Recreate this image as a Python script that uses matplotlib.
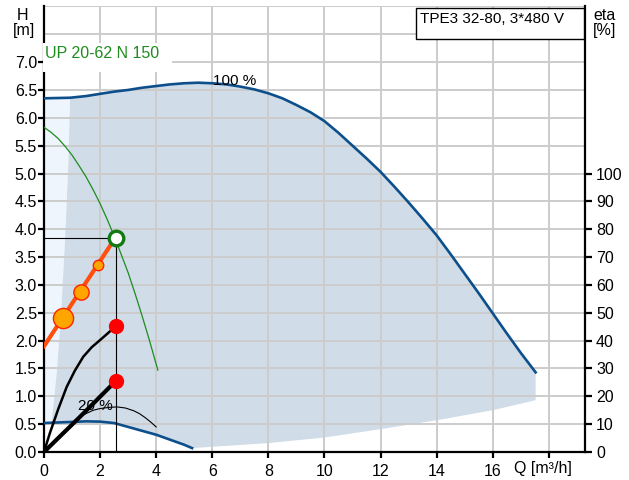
import matplotlib
matplotlib.use("Agg")
import matplotlib.pyplot as plt
from matplotlib.patches import Rectangle
from matplotlib.ticker import FixedLocator, FuncFormatter

plt.rcParams['font.family'] = ['Liberation Sans', 'DejaVu Sans']

# ---- data ----
q_max = [0.0, 0.93, 1.5, 2.0, 2.5, 3.0, 3.5, 4.0, 4.5, 5.0, 5.5, 6.0, 6.5, 7.0, 7.5, 8.0, 8.5, 9.0, 9.5,
         10.0, 10.5, 11.0, 11.5, 12.0, 12.5, 13.0, 13.5, 14.0, 14.5, 15.0, 15.5, 16.0, 16.5, 17.0, 17.53]
h_max = [6.35, 6.36, 6.39, 6.43, 6.47, 6.50, 6.54, 6.57, 6.60, 6.62, 6.63, 6.62, 6.60, 6.56, 6.51, 6.44, 6.35, 6.23, 6.10,
         5.94, 5.73, 5.50, 5.27, 5.03, 4.76, 4.48, 4.19, 3.89, 3.55, 3.20, 2.85, 2.49, 2.13, 1.78, 1.43]

q_min = [0.0, 0.5, 1.0, 1.5, 2.0, 2.5, 3.0, 3.5, 4.0, 4.5, 5.0, 5.28]
h_min = [0.52, 0.53, 0.54, 0.55, 0.545, 0.52, 0.45, 0.38, 0.31, 0.22, 0.13, 0.07]

q_low = [5.28, 8.0, 10.0, 12.0, 14.0, 16.0, 17.53]
h_low = [0.07, 0.16, 0.26, 0.41, 0.57, 0.75, 0.93]

q_lbound = [0.93, 0.87, 0.75, 0.60, 0.45, 0.27]
h_lbound = [6.36, 5.20, 3.80, 2.40, 1.40, 0.52]

q_up = [0.0, 0.25, 0.5, 0.75, 1.0, 1.25, 1.5, 1.75, 2.0, 2.25, 2.5, 2.75, 3.0, 3.25, 3.5, 3.75, 4.06]
h_up = [5.83, 5.74, 5.63, 5.49, 5.33, 5.14, 4.94, 4.71, 4.46, 4.18, 3.88, 3.55, 3.22, 2.84, 2.44, 2.02, 1.47]

q_sys = [0.0, 2.55]
h_sys = [1.90, 3.85]
q_sys_pts = [0.66, 1.32, 1.93]
h_sys_pts = [2.40, 2.88, 3.36]
sys_pt_sizes = [14.5, 11.0, 7.5]

q_p1 = [0.0, 0.21, 0.5, 0.81, 1.1, 1.4, 1.7, 2.0, 2.25, 2.47, 2.55]
h_p1 = [0.0, 0.34, 0.76, 1.17, 1.46, 1.71, 1.88, 2.01, 2.12, 2.22, 2.27]
q_p2 = [0.0, 1.28, 2.55]
h_p2 = [0.0, 0.63, 1.27]

q_eta20 = [1.28, 1.5, 1.76, 2.0, 2.3, 2.6, 2.9, 3.2, 3.4, 3.6, 3.8, 4.0]
h_eta20 = [0.63, 0.69, 0.75, 0.78, 0.80, 0.81, 0.79, 0.74, 0.69, 0.62, 0.54, 0.45]

q_op, h_op = 2.55, 3.85

x_ticks = [0, 2, 4, 6, 8, 10, 12, 14, 16, 18]
x_ticklabels = ['0', '2', '4', '6', '8', '10', '12', '14', '16', '']
h_ticks = [i * 0.5 for i in range(15)]
h_grid = [i * 0.5 for i in range(1, 17)]
eta_ticks = list(range(0, 101, 10))
ETA_PER_M = 20.0  # right axis scale: eta[%] = 20 * H[m]

# ---- figure ----
W, Hpx = 629, 480
fig = plt.figure(figsize=(W / 100, Hpx / 100), dpi=100)
ax = fig.add_axes([44 / W, 28 / Hpx, 541 / W, 445.6 / Hpx])
ax.set_xlim(0, 19.29)
ax.set_ylim(0, 8.0)

blue = '#0d4f8b'
grid_c = '#cccccc'

for xv in x_ticks:
    ax.axvline(xv, color=grid_c, lw=1.4, zorder=1.5)
for yv in h_grid:
    ax.axhline(yv, color=grid_c, lw=1.4, zorder=1.5)

# light region (low flow)
lx = [0.0] + q_lbound + [0.0]
ly = [h_max[0]] + h_lbound + [h_min[0]]
ax.fill(lx, ly, facecolor='#eef5fc', edgecolor='none', zorder=1)

# dark region
mid_q = [q for q in q_min[::-1] if q > q_lbound[-1]]
mid_h = [h for q, h in zip(q_min[::-1], h_min[::-1]) if q > q_lbound[-1]]
dx = q_max[1:] + q_low[::-1] + mid_q + q_lbound[::-1]
dy = h_max[1:] + h_low[::-1] + mid_h + h_lbound[::-1]
ax.fill(dx, dy, facecolor='#d0dce8', edgecolor='none', zorder=1)

ax.plot(q_max, h_max, color=blue, lw=1.9, zorder=3)
ax.plot(q_min, h_min, color=blue, lw=1.9, zorder=3)

ax.plot(q_up, h_up, color='#1e8c1e', lw=0.9, zorder=3)
ax.plot(q_eta20, h_eta20, color='black', lw=0.8, zorder=3)

# operating point reference lines
ax.plot([0, q_op], [h_op, h_op], color='black', lw=0.8, zorder=3)
ax.plot([q_op, q_op], [h_op, 0], color='black', lw=0.8, zorder=3)

ax.plot(q_sys, h_sys, color='#ff5010', lw=3.0, zorder=4)
for q, h, s in zip(q_sys_pts, h_sys_pts, sys_pt_sizes):
    ax.plot([q], [h], 'o', ms=s, mfc='#ffa500', mec='#ff2200', mew=1.0, zorder=5)

ax.plot(q_p1, h_p1, color='black', lw=1.8, zorder=4)
ax.plot(q_p2, h_p2, color='black', lw=3.0, zorder=4)
ax.plot([q_p1[-1]], [h_p1[-1]], 'o', ms=10, mfc='#ff0000', mec='#ff0000', zorder=5)
ax.plot([q_p2[-1]], [h_p2[-1]], 'o', ms=10, mfc='#ff0000', mec='#ff0000', zorder=5)

ax.plot([q_op], [h_op], 'o', ms=10.5, mfc='white', mec='#137a13', mew=2.4, zorder=6)

ax.text(6.03, 6.66, '100 %', fontsize=11, ha='left', va='center', zorder=6)
ax.text(1.21, 0.83, '20 %', fontsize=11, ha='left', va='center', zorder=3.5)

# spines
ax.spines['top'].set_visible(False)
for s in ['left', 'bottom', 'right']:
    ax.spines[s].set_linewidth(1.6)
    ax.spines[s].set_color('black')

# x axis
ax.set_xticks(x_ticks)
ax.set_xticklabels(x_ticklabels)
ax.tick_params(axis='x', direction='out', length=4, width=1.6, labelsize=11.5, pad=5)

# left H ticks (major) and right eta ticks (minor) on the same y axis
ax.yaxis.set_major_locator(FixedLocator(h_ticks))
ax.yaxis.set_major_formatter(FuncFormatter(lambda v, p: f'{v:.1f}'))
ax.yaxis.set_minor_locator(FixedLocator([e / ETA_PER_M for e in eta_ticks]))
ax.yaxis.set_minor_formatter(FuncFormatter(lambda v, p: f'{v * ETA_PER_M:.0f}'))
ax.yaxis.remove_overlapping_locs = False
ax.tick_params(axis='y', which='major', direction='out', length=4, width=1.6, labelsize=11.5, pad=1,
               left=True, labelleft=True, right=False, labelright=False)
ax.tick_params(axis='y', which='minor', direction='out', length=5, width=1.6, labelsize=11.5, pad=3,
               left=False, labelleft=False, right=True, labelright=True)

# UP label with white box covering grid/spine
ax.add_patch(Rectangle((-0.05, 6.82), 4.62, 0.52, facecolor='white', edgecolor='none',
                       zorder=7, clip_on=False))
ax.text(0.04, 7.15, 'UP 20-62 N 150', color='#1e8c1e', fontsize=11.5, ha='left', va='center', zorder=8)

# pump name box
ax.add_patch(Rectangle((416 / W, 1 - 39 / Hpx), (584 - 416) / W, 31 / Hpx,
                       transform=fig.transFigure, facecolor='white', edgecolor='black',
                       lw=1.0, zorder=9, clip_on=False))
fig.text(420 / W, 1 - 19 / Hpx, 'TPE3 32-80, 3*480 V', fontsize=11, ha='left', va='center', zorder=10)

fig.text(23 / W, 1 - 15 / Hpx, 'H', fontsize=11.5, ha='center', va='center')
fig.text(24 / W, 1 - 31 / Hpx, '[m]', fontsize=11.5, ha='center', va='center')
fig.text(605 / W, 1 - 16 / Hpx, 'eta', fontsize=11.5, ha='center', va='center')
fig.text(605 / W, 1 - 31 / Hpx, '[%]', fontsize=11.5, ha='center', va='center')
fig.text(543 / W, 1 - 469 / Hpx, 'Q [m³/h]', fontsize=11.5, ha='center', va='center')

fig.savefig('out.png', dpi=100)
